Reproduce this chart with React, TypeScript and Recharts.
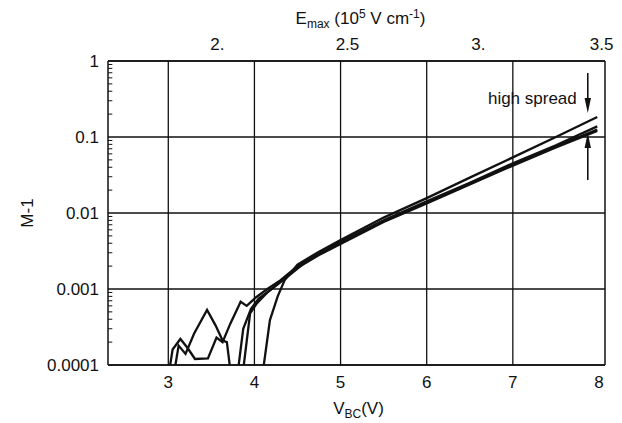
import React from 'react';
import { LineChart, Line, XAxis, YAxis, CartesianGrid, ReferenceLine } from 'recharts';

const FONT = '"Liberation Sans", Arial, sans-serif';
const INK = '#111';
const FS = 17;

// axes
const xDomain = [2.3, 8.07];
const bottomTicks = [3, 4, 5, 6, 7, 8];
const gridV = [3, 4, 5, 6, 7];
const yTicks = [0.0001, 0.001, 0.01, 0.1, 1];
// E_max ticks (top axis) placed at their V_BC positions
const topTickV = [3.57, 5.08, 6.6, 8.03];
const topTickLabels = ['2.', '2.5', '3.', '3.5'];
const minorMult = [2, 3, 4, 5, 6, 7, 8, 9];
const decades = [0.0001, 0.001, 0.01, 0.1];

// curves, V_BC (V) vs M-1
const c1V = [3.0, 3.05, 3.14, 3.22, 3.31, 3.46, 3.56, 3.63, 3.72, 3.84, 3.91, 4.02, 4.15, 4.3, 4.5, 4.75, 5, 5.5, 6, 6.5, 7, 7.5, 7.98];
const c1M = [0.00007, 0.00016, 0.00022, 0.00017, 0.00012, 0.000122, 0.00023, 0.0002, 0.00035, 0.00068, 0.0006, 0.00078, 0.001, 0.0013, 0.002, 0.0029, 0.0041, 0.0078, 0.0137, 0.0242, 0.043, 0.075, 0.125];

const c2V = [3.06, 3.12, 3.2, 3.3, 3.45, 3.55, 3.63, 3.68, 3.73, 3.79, 3.86, 3.95, 4.03, 4.15, 4.3, 4.5, 4.75, 5, 5.5, 6, 6.5, 7, 7.5, 7.98];
const c2M = [0.00007, 0.00018, 0.00014, 0.00026, 0.00053, 0.00033, 0.00021, 0.0002, 0.00007, 0.00004, 0.00007, 0.00048, 0.00065, 0.0009, 0.00125, 0.0019, 0.0028, 0.0039, 0.0076, 0.0134, 0.0238, 0.042, 0.073, 0.12];

const c3V = [4.09, 4.18, 4.27, 4.35, 4.5, 4.75, 5, 5.5, 6, 6.5, 7, 7.5, 7.98];
const c3M = [0.00007, 0.00039, 0.0008, 0.0013, 0.0021, 0.0031, 0.0044, 0.0087, 0.0157, 0.0292, 0.054, 0.1, 0.183];

const c4V = [3.8, 3.87, 3.96, 4.05, 4.2, 4.4, 4.6, 5, 5.5, 6, 6.5, 7, 7.5, 7.98];
const c4M = [0.00007, 0.0003, 0.00055, 0.00075, 0.001, 0.0015, 0.0023, 0.0042, 0.008, 0.0142, 0.025, 0.045, 0.078, 0.138];

// "high spread" arrows
const arrowV = 7.87;
const downArrowM = [0.695, 0.207];
const upArrowM = [0.0272, 0.113];

const toPoints = (v: number[], m: number[]) => v.map((x, i) => ({ v: x, m: m[i] }));
const curves = [toPoints(c1V, c1M), toPoints(c2V, c2M), toPoints(c3V, c3M), toPoints(c4V, c4M)];
const minorY = decades.flatMap((d) => minorMult.map((k) => k * d));
const minorTickLen = 0.05; // in V, about 4px

const topLabel = (v: number) => {
  const i = topTickV.findIndex((t) => Math.abs(t - v) < 1e-6);
  return i >= 0 ? topTickLabels[i] : '';
};

const arrowHead = (x: number, y: number, dir: number) =>
  `${x},${y} ${x - 3.2},${y - dir * 15} ${x + 3.2},${y - dir * 15}`;

const DownArrow = (props: any) => {
  const { x1, y1, x2, y2 } = props;
  return (
    <g>
      <text x={x1 - 11} y={y1 + 31} textAnchor="end" fontFamily={FONT} fontSize={FS} fill={INK}>
        high spread
      </text>
      <line x1={x1} y1={y1} x2={x2} y2={y2 - 10} stroke={INK} strokeWidth={1.6} />
      <polygon points={arrowHead(x2, y2, 1)} fill={INK} />
    </g>
  );
};

const UpArrow = (props: any) => {
  const { x1, y1, x2, y2 } = props;
  return (
    <g>
      <line x1={x1} y1={y1} x2={x2} y2={y2 + 10} stroke={INK} strokeWidth={1.6} />
      <polygon points={arrowHead(x2, y2, -1)} fill={INK} />
    </g>
  );
};

const TopTitle = ({ viewBox }: any) => {
  const cx = viewBox.x + viewBox.width / 2 + 4;
  return (
    <text x={cx} y={viewBox.y + 24} textAnchor="middle" fontFamily={FONT} fontSize={FS} fill={INK}>
      <tspan>E</tspan>
      <tspan fontSize={12} dy={4}>max</tspan>
      <tspan dy={-4}> (10</tspan>
      <tspan fontSize={12} dy={-6}>5</tspan>
      <tspan dy={6}> V cm</tspan>
      <tspan fontSize={12} dy={-6}>-1</tspan>
      <tspan dy={6}>)</tspan>
    </text>
  );
};

const BottomTitle = ({ viewBox }: any) => {
  const cx = viewBox.x + viewBox.width / 2 + 2;
  return (
    <text x={cx} y={viewBox.y + 49} textAnchor="middle" fontFamily={FONT} fontSize={FS} fill={INK}>
      <tspan>V</tspan>
      <tspan fontSize={12} dy={4}>BC</tspan>
      <tspan dy={-4}>(V)</tspan>
    </text>
  );
};

const LeftTitle = ({ viewBox }: any) => {
  const x = viewBox.x + 33;
  const y = viewBox.y + viewBox.height / 2;
  return (
    <text x={x} y={y} transform={`rotate(-90, ${x}, ${y})`} textAnchor="middle" fontFamily={FONT} fontSize={FS} fill={INK}>
      M-1
    </text>
  );
};

const tickStyle = { fill: INK, fontSize: FS, fontFamily: FONT };

export default function App() {
  return (
    <div style={{ position: 'absolute', left: 0, top: 0, background: '#fff' }}>
      <LineChart width={622} height={423} margin={{ top: 0, right: 0, bottom: 0, left: 0 }}>
        <CartesianGrid vertical={false} stroke={INK} strokeWidth={1.3} strokeOpacity={1} />
        <XAxis
          dataKey="v"
          type="number"
          domain={xDomain}
          allowDataOverflow
          ticks={bottomTicks}
          height={58}
          tick={tickStyle}
          tickLine={false}
          tickSize={0}
          tickMargin={11}
          axisLine={{ stroke: INK, strokeWidth: 1.5 }}
          label={{ content: BottomTitle }}
        />
        <XAxis
          xAxisId="top"
          dataKey="v"
          orientation="top"
          type="number"
          domain={xDomain}
          allowDataOverflow
          ticks={topTickV}
          interval={0}
          tickFormatter={topLabel}
          height={61}
          tick={tickStyle}
          tickLine={false}
          tickSize={0}
          tickMargin={11}
          axisLine={{ stroke: INK, strokeWidth: 1.5 }}
          label={{ content: TopTitle }}
        />
        <YAxis
          type="number"
          scale="log"
          domain={[0.0001, 1]}
          allowDataOverflow
          ticks={yTicks}
          interval={0}
          tickFormatter={(v: number) => String(v)}
          width={108}
          tick={tickStyle}
          tickLine={false}
          tickSize={0}
          tickMargin={9}
          axisLine={{ stroke: INK, strokeWidth: 1.5 }}
          label={{ content: LeftTitle }}
        />
        <YAxis
          yAxisId="right"
          orientation="right"
          type="number"
          scale="log"
          domain={[0.0001, 1]}
          allowDataOverflow
          ticks={yTicks}
          width={17}
          tick={false}
          tickLine={false}
          axisLine={{ stroke: INK, strokeWidth: 1.5 }}
        />
        {gridV.map((v) => (
          <ReferenceLine key={v} x={v} stroke={INK} strokeWidth={1.3} />
        ))}
        {minorY.map((m) => (
          <ReferenceLine
            key={m}
            segment={[{ x: xDomain[0], y: m }, { x: xDomain[0] + minorTickLen, y: m }]}
            stroke={INK}
            strokeWidth={1}
          />
        ))}
        {curves.map((pts, i) => (
          <Line
            key={i}
            data={pts}
            dataKey="m"
            type="linear"
            stroke={INK}
            strokeWidth={2.3}
            dot={false}
            activeDot={false}
            isAnimationActive={false}
          />
        ))}
        {/* invisible series so the top axis gets its scale */}
        <Line
          data={curves[2]}
          dataKey="m"
          xAxisId="top"
          stroke="none"
          dot={false}
          activeDot={false}
          isAnimationActive={false}
        />
        <ReferenceLine
          segment={[{ x: arrowV, y: downArrowM[0] }, { x: arrowV, y: downArrowM[1] }]}
          shape={DownArrow}
        />
        <ReferenceLine
          segment={[{ x: arrowV, y: upArrowM[0] }, { x: arrowV, y: upArrowM[1] }]}
          shape={UpArrow}
        />
      </LineChart>
    </div>
  );
}
